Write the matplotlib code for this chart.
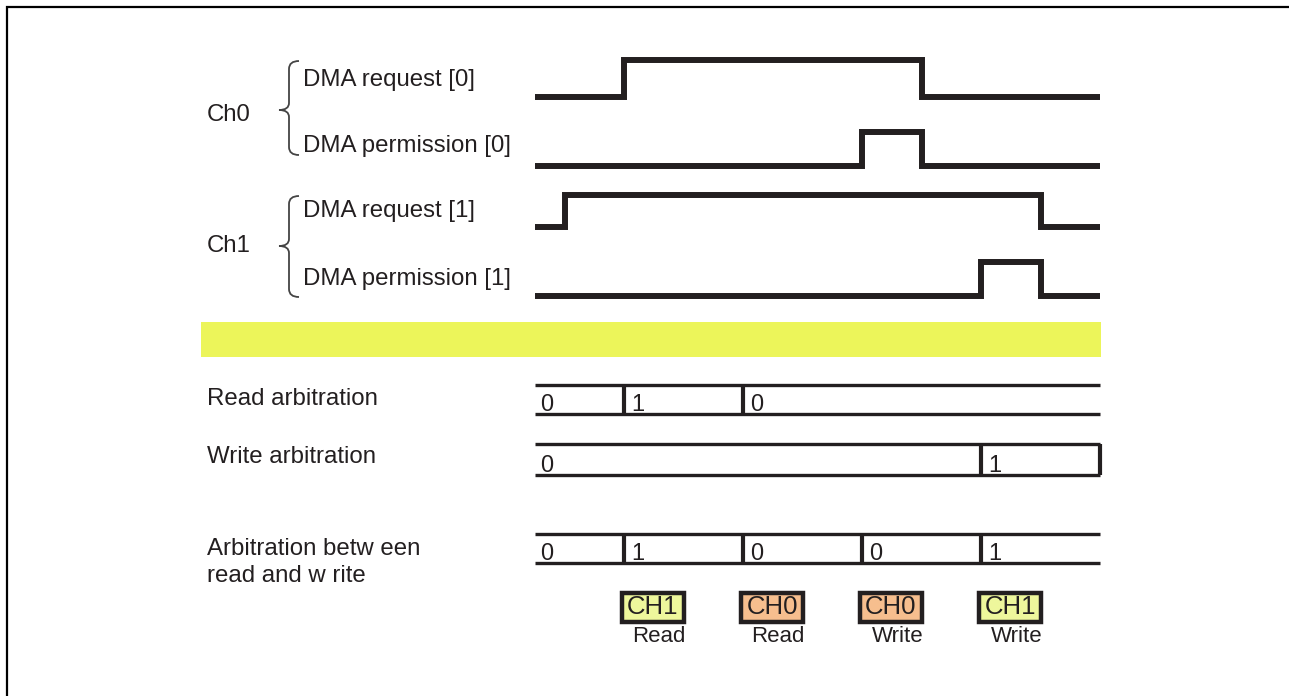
import numpy as np
import matplotlib.pyplot as plt
from matplotlib.patches import Rectangle, PathPatch
from matplotlib.path import Path

# timing data, in clock units (0 = left end of the waveforms)
t_end = 9.5
req0_t = [0, 1.5, 6.5, t_end]
req0_lv = [0, 1, 0]
perm0_t = [0, 5.5, 6.5, t_end]
perm0_lv = [0, 1, 0]
req1_t = [0, 0.5, 8.5, t_end]
req1_lv = [0, 1, 0]
perm1_t = [0, 7.5, 8.5, t_end]
perm1_lv = [0, 1, 0]

read_t = [0, 1.5, 3.5]
read_v = ['0', '1', '0']
write_t = [0, 7.5]
write_v = ['0', '1']
arb_t = [0, 1.5, 3.5, 5.5, 7.5]
arb_v = ['0', '1', '0', '0', '1']

grant_t = [1.5, 3.5, 5.5, 7.5]
grant_ch = ['CH1', 'CH0', 'CH0', 'CH1']
grant_op = ['Read', 'Read', 'Write', 'Write']

# layout: pixel positions, time axis starts at px 535, 59.5 px per unit
T0 = 535.0
UNIT = 59.5
W, H = 1289, 696
ink = '#231f20'
ch_colors = {'CH1': '#eef79c', 'CH0': '#f6be8e'}


def X(px):
    return (px - T0) / UNIT


plt.rcParams['font.family'] = ['Liberation Sans', 'DejaVu Sans']
fig = plt.figure(figsize=(W / 100, H / 100), dpi=100)
ax = fig.add_axes([0, 0, 1, 1])
ax.set_xlim(X(0), X(W))
ax.set_ylim(H, 0)
ax.axis('off')

# frame (only top and left visible)
ax.plot([X(6.5), X(6.5), X(W + 5)], [H + 5, 7, 7], color='black', lw=1.6,
        solid_joinstyle='miter')


def wave(ts, lv, low, high):
    y = [low - v * (low - high) for v in lv]
    ax.step(ts, y + [y[-1]], where='post', color=ink, lw=4.3,
            solid_joinstyle='miter', solid_capstyle='butt')


wave(req0_t, req0_lv, 97, 60)
wave(perm0_t, perm0_lv, 166, 132)
wave(req1_t, req1_lv, 227, 195)
wave(perm1_t, perm1_lv, 296, 262)


def brace(top, tip, bot):
    xe, xs, xt = X(299), X(289), X(279)
    verts = [(xe, top), (xs, top), (xs, top + 8),
             (xs, tip - 7), (xs, tip), (xt, tip),
             (xs, tip), (xs, tip + 7),
             (xs, bot - 8), (xs, bot), (xe, bot)]
    codes = [Path.MOVETO, Path.CURVE3, Path.CURVE3,
             Path.LINETO, Path.CURVE3, Path.CURVE3,
             Path.CURVE3, Path.CURVE3,
             Path.LINETO, Path.CURVE3, Path.CURVE3]
    ax.add_patch(PathPatch(Path(verts, codes), fill=False, ec='#444444', lw=1.3))


brace(61, 110, 155)
brace(196, 246, 297)

fs = 17.3
ax.text(X(207), 121, 'Ch0', fontsize=fs, color=ink, va='baseline')
ax.text(X(207), 252, 'Ch1', fontsize=fs, color=ink, va='baseline')
ax.text(X(303), 86, 'DMA request [0]', fontsize=fs, color=ink, va='baseline')
ax.text(X(303), 152, 'DMA permission [0]', fontsize=fs, color=ink, va='baseline')
ax.text(X(303), 217, 'DMA request [1]', fontsize=fs, color=ink, va='baseline')
ax.text(X(303), 285, 'DMA permission [1]', fontsize=fs, color=ink, va='baseline')

# yellow separator band
ax.add_patch(Rectangle((X(201), 322), X(1101) - X(201), 35, fc='#ecf55a', ec='none'))

ax.text(X(207), 405, 'Read arbitration', fontsize=fs, color=ink, va='baseline')
ax.text(X(207), 463, 'Write arbitration', fontsize=fs, color=ink, va='baseline')
ax.text(X(207), 555, 'Arbitration betw een', fontsize=fs, color=ink, va='baseline')
ax.text(X(207), 582, 'read and w rite', fontsize=fs, color=ink, va='baseline')


def bus(ts, vals, top, bot, closed=False):
    ax.plot([0, t_end], [top, top], color=ink, lw=2.4, solid_capstyle='butt')
    ax.plot([0, t_end], [bot, bot], color=ink, lw=2.4, solid_capstyle='butt')
    for i, (t, v) in enumerate(zip(ts, vals)):
        if i > 0:
            ax.plot([t, t], [top, bot], color=ink, lw=3.0, solid_capstyle='butt')
        ax.text(t + (5 if i == 0 else 7) / UNIT, bot - 3, v, fontsize=17,
                color=ink, va='baseline')
    if closed:
        ax.plot([t_end, t_end], [top, bot], color=ink, lw=3.0, solid_capstyle='butt')


bus(read_t, read_v, 385, 414)
bus(write_t, write_v, 444, 475, closed=True)
bus(arb_t, arb_v, 534, 563)

# grant boxes under the combined arbitration row
for t, ch, op in zip(grant_t, grant_ch, grant_op):
    x0 = t - 2 / UNIT
    ax.add_patch(Rectangle((x0, 593), 62 / UNIT, 29, fc=ch_colors[ch], ec=ink,
                           lw=3.2, joinstyle='miter'))
    ax.text(x0 + 5 / UNIT, 607, ch, fontsize=18.5, color=ink, va='center')
    ax.text(x0 + 63 / UNIT, 642, op, fontsize=16, color=ink, ha='right',
            va='baseline')

fig.savefig('out.png', dpi=100)
